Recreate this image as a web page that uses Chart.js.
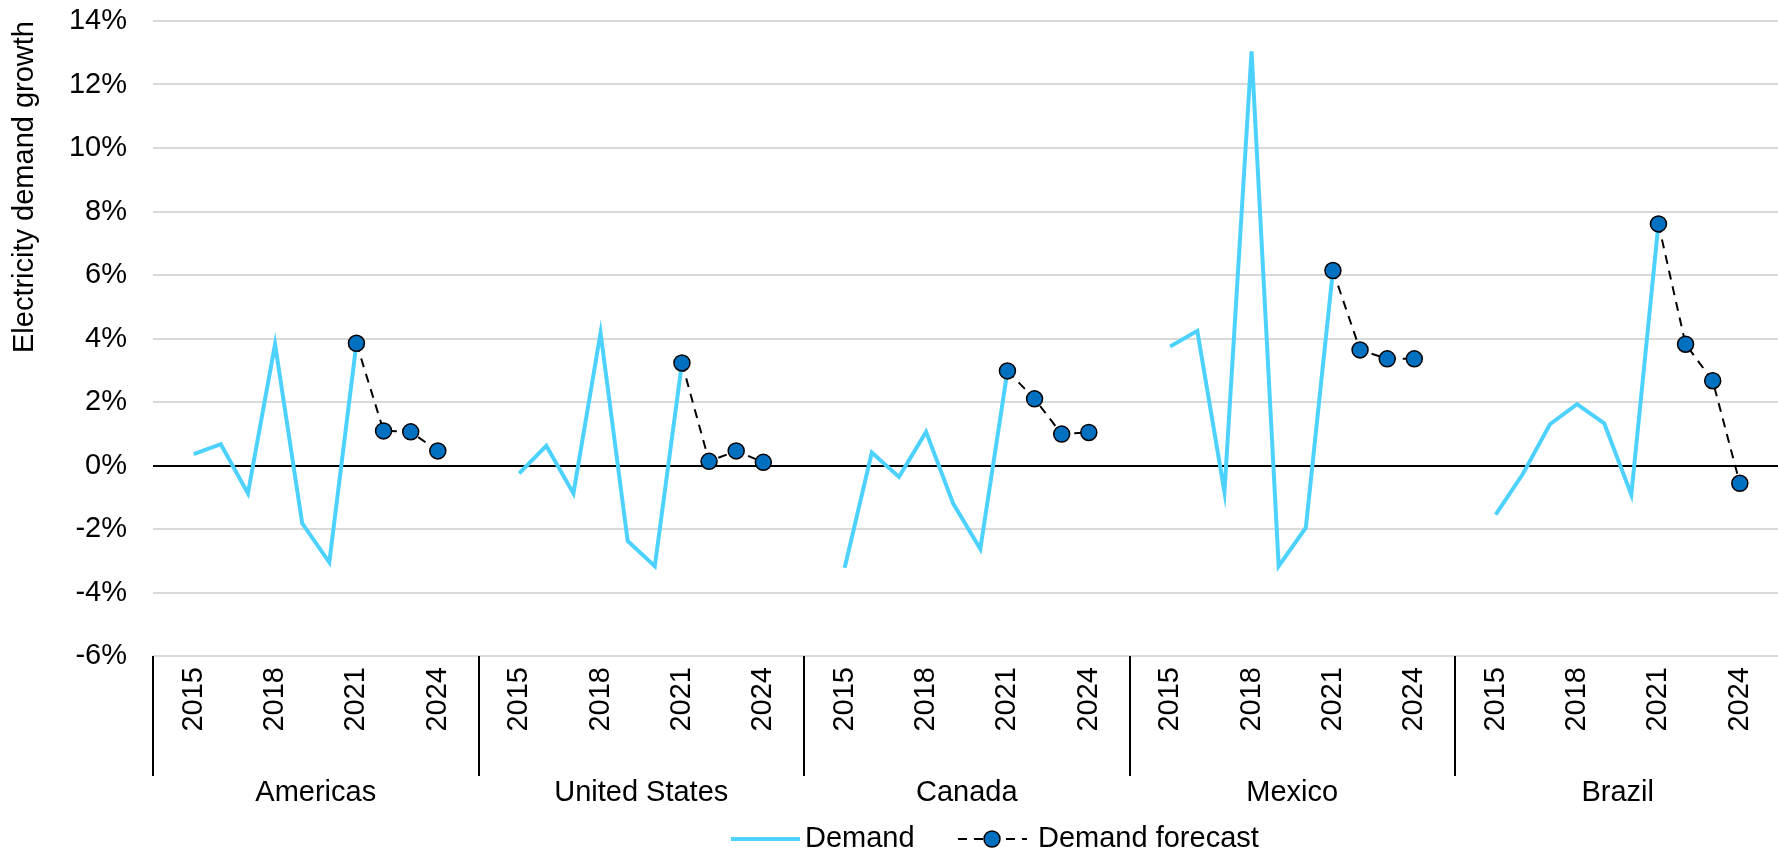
<!DOCTYPE html>
<html>
<head>
<meta charset="utf-8">
<script src="https://cdn.jsdelivr.net/npm/chart.js@4/dist/chart.umd.min.js"></script>
<style>
  html, body { margin: 0; padding: 0; background: #fff; overflow: hidden; }
  #demandChart { display: block; }
</style>
</head>
<body>
<canvas id="demandChart" width="1790" height="850"></canvas>
<script>
const groups = ["Americas", "United States", "Canada", "Mexico", "Brazil"];
const years = ["2015", "2016", "2017", "2018", "2019", "2020", "2021", "2022", "2023", "2024"];
const shownYears = ["2015", "2018", "2021", "2024"];
const yTicks = [-6, -4, -2, 0, 2, 4, 6, 8, 10, 12, 14];

// demand growth 2015-2021 (%)
const demandAmericas = [0.36, 0.67, -0.88, 3.82, -1.82, -3.05, 3.85];
const demandUS = [-0.25, 0.62, -0.88, 4.18, -2.38, -3.17, 3.23];
const demandCanada = [-3.22, 0.41, -0.36, 1.06, -1.20, -2.63, 2.98];
const demandMexico = [3.75, 4.24, -0.83, 13.04, -3.17, -1.96, 6.14];
const demandBrazil = [-1.55, -0.27, 1.30, 1.93, 1.33, -0.92, 7.61];

// forecast 2021-2024 (%)
const forecastAmericas = [3.85, 1.09, 1.06, 0.46];
const forecastUS = [3.23, 0.13, 0.46, 0.10];
const forecastCanada = [2.98, 2.10, 0.99, 1.04];
const forecastMexico = [6.14, 3.64, 3.36, 3.36];
const forecastBrazil = [7.61, 3.82, 2.67, -0.56];

const demandAll = [demandAmericas, demandUS, demandCanada, demandMexico, demandBrazil];
const forecastAll = [forecastAmericas, forecastUS, forecastCanada, forecastMexico, forecastBrazil];

// each group: one empty slot, 10 years, one empty slot
const slots = years.length + 2;
const labels = [];
const demandData = [];
const forecastData = [];
groups.forEach((g, gi) => {
    labels.push("");
    demandData.push(null);
    forecastData.push(null);
    years.forEach((y, yi) => {
        labels.push(y);
        demandData.push(yi < demandAll[gi].length ? demandAll[gi][yi] : null);
        const fi = yi - (years.length - forecastAll[gi].length);
        forecastData.push(fi >= 0 ? forecastAll[gi][fi] : null);
    });
    labels.push("");
    demandData.push(null);
    forecastData.push(null);
});

const FONT = "'Liberation Sans', Arial, sans-serif";
const FSIZE = 29;

const groupAxis = {
    id: "groupAxis",
    afterDraw(chart) {
        const { ctx, chartArea, scales: { x } } = chart;
        ctx.save();
        ctx.strokeStyle = "#000";
        ctx.lineWidth = 2;
        for (let g = 0; g <= groups.length; g++) {
            const px = Math.round(x.getPixelForValue(g * slots - 0.5));
            ctx.beginPath();
            ctx.moveTo(px, chartArea.bottom);
            ctx.lineTo(px, 776);
            ctx.stroke();
        }
        ctx.fillStyle = "#000";
        ctx.font = FSIZE + "px " + FONT;
        ctx.textAlign = "center";
        ctx.textBaseline = "middle";
        groups.forEach((g, gi) => {
            ctx.fillText(g, x.getPixelForValue(gi * slots + (slots - 1) / 2), 793);
        });
        ctx.restore();
    }
};

const lineLegend = {
    id: "lineLegend",
    afterDraw(chart) {
        const { ctx } = chart;
        const dsDemand = chart.data.datasets[0];
        const dsFc = chart.data.datasets[1];
        const y = 839;
        ctx.save();
        ctx.font = FSIZE + "px " + FONT;
        ctx.fillStyle = "#000";
        ctx.textBaseline = "middle";
        ctx.textAlign = "left";

        ctx.strokeStyle = dsDemand.borderColor;
        ctx.lineWidth = dsDemand.borderWidth;
        ctx.beginPath();
        ctx.moveTo(731, y);
        ctx.lineTo(800, y);
        ctx.stroke();
        ctx.fillText(dsDemand.label, 805, y);

        ctx.strokeStyle = dsFc.borderColor;
        ctx.lineWidth = dsFc.borderWidth;
        ctx.setLineDash(dsFc.borderDash);
        ctx.beginPath();
        ctx.moveTo(958, y);
        ctx.lineTo(1027, y);
        ctx.stroke();
        ctx.setLineDash([]);
        ctx.beginPath();
        ctx.arc(992, y, dsFc.pointRadius, 0, Math.PI * 2);
        ctx.fillStyle = dsFc.pointBackgroundColor;
        ctx.fill();
        ctx.lineWidth = dsFc.pointBorderWidth;
        ctx.strokeStyle = dsFc.pointBorderColor;
        ctx.stroke();
        ctx.fillStyle = "#000";
        ctx.fillText(dsFc.label, 1038, y);
        ctx.restore();
    }
};

const chart = new Chart(document.getElementById("demandChart"), {
    type: "line",
    data: {
        labels: labels,
        datasets: [{
            label: "Demand",
            data: demandData,
            borderColor: "#4dd2ff",
            borderWidth: 4,
            pointRadius: 0,
            tension: 0,
            order: 1,
        }, {
            label: "Demand forecast",
            data: forecastData,
            borderColor: "#000",
            borderWidth: 2,
            borderDash: [9, 7],
            pointRadius: 8,
            pointBackgroundColor: "#0070c0",
            pointBorderColor: "#000",
            pointBorderWidth: 1.5,
            tension: 0,
            order: 0,
        }],
    },
    options: {
        responsive: false,
        animation: false,
        layout: { padding: { top: 21, right: 0, left: 0, bottom: 0 } },
        plugins: {
            legend: { display: false },
            tooltip: { enabled: false },
        },
        scales: {
            x: {
                type: "category",
                offset: true,
                grid: { display: false, drawTicks: false },
                border: { display: false },
                ticks: {
                    autoSkip: false,
                    minRotation: 90,
                    maxRotation: 90,
                    padding: 11,
                    color: "#000",
                    font: { size: FSIZE, family: FONT },
                    callback: function(value) {
                        const lab = this.getLabelForValue(value);
                        return shownYears.includes(lab) ? lab : null;
                    },
                },
                afterFit: (scale) => {
                    scale.height = 194;
                    scale.paddingLeft = 0;
                    scale.paddingRight = 0;
                },
            },
            y: {
                min: yTicks[0],
                max: yTicks[yTicks.length - 1],
                afterBuildTicks: (scale) => { scale.ticks = yTicks.map(v => ({ value: v })); },
                grid: {
                    drawTicks: false,
                    lineWidth: 2,
                    color: (c) => c.tick && c.tick.value === 0 ? "#000" : "#d9d9d9",
                },
                border: { display: false },
                ticks: {
                    padding: 26,
                    color: "#000",
                    font: { size: FSIZE, family: FONT },
                    callback: (v) => v + "%",
                },
                title: {
                    display: true,
                    text: "Electricity demand growth",
                    align: "end",
                    color: "#000",
                    font: { size: FSIZE, family: FONT },
                    padding: { top: 8, bottom: 0 },
                },
                afterFit: (scale) => {
                    scale.width = 153;
                    scale.paddingTop = 0;
                    scale.paddingBottom = 0;
                },
            },
        },
    },
    plugins: [groupAxis, lineLegend],
});
</script>
</body>
</html>
